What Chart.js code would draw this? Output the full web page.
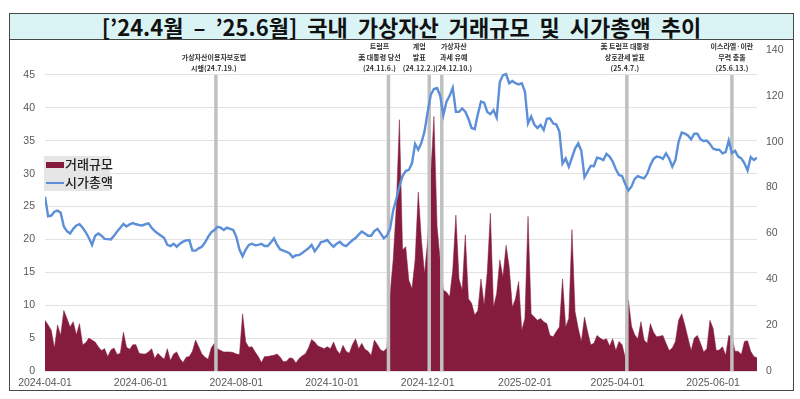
<!DOCTYPE html>
<html>
<head>
<meta charset="utf-8">
<script src="https://cdn.jsdelivr.net/npm/chart.js@4"></script>
<style>
  body { margin: 0; background: #fff; }
  #wrap { position: relative; width: 800px; height: 399px; overflow: hidden; }
  #frame { position: absolute; left: 9px; top: 13px; width: 785px; height: 378px; box-sizing: border-box; border: 1.5px solid #474747; }
  #title { position: absolute; left: 9px; top: 13px; width: 785px; height: 27px; box-sizing: border-box; border: 1.5px solid #474747;
           background: #daf4f6; text-align: center; font: bold 22px "Noto Sans CJK KR", sans-serif; line-height: 24px; color: #111;
           word-spacing: 5px; }
  #chart { position: absolute; left: 0; top: 0; }
  #legend { position: absolute; left: 44px; top: 156px; width: 66px; height: 35px; background: #e6e6e6;
            font: 500 13px "Noto Sans CJK KR", sans-serif; color: #222; }
  #legend div { position: absolute; left: 2px; height: 16px; line-height: 16px; white-space: nowrap; }
  #legend i { display: inline-block; width: 18px; vertical-align: middle; margin-right: 1px; }
</style>
</head>
<body>
<div id="wrap">
  <div id="frame"></div>
  <div id="title">[’24.4월 – ’25.6월] 국내 가상자산 거래규모 및 시가총액 추이</div>
  <canvas id="chart" width="800" height="399"></canvas>
  <div id="legend">
    <div style="top:0px"><i style="height:6px;background:#851c3d"></i>거래규모</div>
    <div style="top:18px"><i style="height:2px;background:#5b8fd8"></i>시가총액</div>
  </div>
</div>
<script>
const startDate = "2024-04-01";
const stepDays = 2;

const xTicks = ["2024-04-01","2024-06-01","2024-08-01","2024-10-01","2024-12-01","2025-02-01","2025-04-01","2025-06-01"];

// 거래규모 (left axis), every 2 days from 2024-04-01
const volume = [
  7.7, 7.0, 6.2, 3.5, 7.0, 5.4, 9.2, 8.0, 6.7, 7.5,
  5.5, 7.2, 4.0, 4.3, 5.0, 4.7, 4.4, 3.7, 3.1, 3.4,
  2.2, 3.2, 3.5, 2.5, 2.7, 5.9, 3.6, 3.3, 4.0, 4.0,
  2.7, 2.6, 2.6, 2.9, 3.4, 1.9, 2.7, 2.2, 1.8, 3.4,
  1.6, 2.6, 2.9, 1.9, 1.3, 2.1, 2.2, 3.0, 4.7, 3.7,
  2.6, 2.1, 1.8, 3.5, 4.2, 3.4, 3.1, 2.9, 2.9, 2.9,
  2.8, 2.6, 2.5, 8.7, 4.4, 3.6, 3.7, 2.9, 2.2, 1.3,
  2.2, 2.2, 2.3, 2.4, 2.6, 2.1, 1.4, 1.5, 2.0, 1.9,
  1.2, 1.9, 2.3, 2.6, 3.5, 4.8, 4.4, 3.8, 3.6, 3.4,
  3.7, 3.4, 4.4, 3.2, 2.6, 3.9, 3.0, 2.7, 4.0, 4.9,
  3.4, 4.2, 3.3, 3.0, 2.4, 4.7, 4.0, 3.2, 3.0, 3.5,
  11.5, 16.9, 25.0, 38.2, 18.4, 18.9, 13.8, 12.5, 16.9, 27.2,
  20.0, 14.8, 19.9, 30.0, 38.7, 22.0, 16.8, 12.3, 12.0, 11.3,
  15.3, 23.7, 14.0, 12.3, 20.7, 11.0, 10.3, 8.5, 9.2, 14.0,
  10.0, 15.0, 24.0, 9.7, 11.8, 16.9, 14.3, 19.1, 15.8, 9.7,
  11.0, 13.6, 6.2, 8.0, 23.5, 8.7, 8.2, 7.7, 8.0, 7.5,
  7.2, 5.4, 5.2, 6.0, 6.7, 14.0, 6.7, 8.0, 21.5, 9.0,
  6.5, 4.5, 8.2, 6.0, 4.0, 4.2, 5.4, 5.0, 4.7, 4.9,
  3.8, 4.9, 3.1, 4.5, 4.0, 2.0, 10.8, 6.8, 5.5, 4.9,
  7.5, 4.7, 4.2, 7.2, 5.9, 5.2, 5.3, 5.4, 4.2, 3.1,
  3.5, 4.5, 7.7, 8.7, 7.0, 5.0, 3.1, 5.0, 5.4, 4.2,
  2.9, 3.4, 7.7, 6.5, 3.1, 3.2, 3.7, 2.4, 5.4, 5.2,
  3.0, 3.0, 2.5, 4.5, 4.6, 3.0, 2.2, 2.0
];

// 시가총액 (right axis), same dates
const marketCap = [
  76, 67.5, 67.8, 69.5, 70, 69, 63, 61, 60, 62,
  63.5, 64, 62.5, 60.5, 58, 55, 59, 60, 59, 57.6,
  57.5, 57.4, 59, 60.8, 62.5, 64.1, 63, 64, 64.5, 64,
  63.7, 63.5, 64, 64.4, 62.5, 61, 60, 59, 58, 55,
  54.5, 55.5, 54.2, 55.5, 56.4, 57, 57.1, 52.5, 52.5, 53.5,
  54.2, 56, 58.5, 60.5, 61.5, 62.9, 62.5, 61.5, 62.5, 62,
  61.5, 58.5, 53, 50, 53, 55, 55.5, 54.8, 55, 55.5,
  54.5, 54.5, 56, 57.9, 55, 53, 52.5, 52, 51.3, 49.6,
  50.5, 50.6, 51.5, 52.5, 53.5, 55, 52.2, 54, 56.2, 56.5,
  57.1, 55.5, 54.2, 55.5, 56.4, 55, 54.5, 55.8, 57, 58,
  59.5, 60.8, 60, 59, 59, 61, 62, 60, 57.9, 59,
  62, 70, 75, 80.5, 85, 87.2, 87.7, 90.6, 99, 96.5,
  99.5, 104.5, 113, 120.5, 123, 123.4, 120, 111.6, 117.5, 120,
  123.5, 113, 113, 114.5, 113.1, 110, 106, 105.5, 112, 117.5,
  117, 113, 112, 113.8, 110.5, 126, 129, 129.5, 125.5, 126.5,
  125.5, 125, 125.5, 122, 108, 111, 107.5, 106, 107.3, 105.1,
  110, 110.2, 108, 107.5, 104.5, 90.5, 92.7, 89.1, 93, 97,
  99.3, 96, 84.5, 87, 89.5, 89.3, 93, 92.7, 92, 94.7,
  93.5, 91.3, 88, 85.5, 85, 81.5, 78.7, 80.5, 83.8, 85,
  84.5, 84, 86, 89.8, 92.5, 93.5, 93.3, 92.5, 94.9, 92.7,
  89.1, 92, 100, 104, 103.5, 102.7, 101, 103.5, 103.5, 101,
  100.3, 100.5, 99, 97, 96.5, 96.5, 94.9, 95.5, 100.5, 95,
  96, 93.5, 92.7, 90.6, 87.5, 93.3, 92, 93
];

const eventDates = ["2024-07-19","2024-11-06","2024-12-02","2024-12-10","2025-04-07","2025-06-13"];
const eventTexts = [
  ["가상자산이용자보호법", "시행(24.7.19.)"],
  ["트럼프", "美 대통령 당선", "(24.11.6.)"],
  ["계엄", "발표", "(24.12.2.)"],
  ["가상자산", "과세 유예", "(24.12.10.)"],
  ["美 트럼프 대통령", "상호관세 발표", "(25.4.7.)"],
  ["이스라엘·이란", "무력 충돌", "(25.6.13.)"]
];
const eventLabelShift = [-2, -9, -10, 12, -2, 0];

function dayIndex(s){
  return Math.round((Date.parse(s) - Date.parse(startDate)) / 86400000);
}

const tickFont = { family: "'Liberation Sans', sans-serif", size: 10.5 };

const eventPlugin = {
  id: "events",
  afterDatasetDraw(chart, args){
    if(args.index !== 1) return;
    const ctx = chart.ctx;
    const xs = chart.scales.x, yl = chart.scales.y;
    const top = yl.getPixelForValue(45);
    const bottom = chart.chartArea.bottom;
    ctx.save();
    ctx.strokeStyle = "#c0c0c0";
    ctx.lineWidth = 3.5;
    eventDates.forEach(d=>{
      const x = xs.getPixelForValue(dayIndex(d));
      ctx.beginPath();
      ctx.moveTo(x, top);
      ctx.lineTo(x, bottom);
      ctx.stroke();
    });
    ctx.fillStyle = "#333";
    ctx.font = "bold 7px 'Noto Sans CJK KR', sans-serif";
    ctx.textAlign = "center";
    ctx.textBaseline = "middle";
    eventTexts.forEach((lines, i)=>{
      const x = xs.getPixelForValue(dayIndex(eventDates[i])) + eventLabelShift[i];
      lines.forEach((t, j)=>{
        const y = top - 7 - (lines.length - 1 - j) * 11;
        ctx.fillText(t, x, y);
      });
    });
    ctx.restore();
  }
};

new Chart(document.getElementById("chart"), {
  type: "line",
  data: {
    datasets: [
      {
        label: "시가총액",
        data: marketCap.map((v,i)=>({ x: i*stepDays, y: v })),
        yAxisID: "y1",
        borderColor: "#5b8fd8",
        borderWidth: 2.4,
        pointRadius: 0,
        tension: 0,
        fill: false
      },
      {
        label: "거래규모",
        data: volume.map((v,i)=>({ x: i*stepDays, y: v })),
        yAxisID: "y",
        borderColor: "#851c3d",
        borderWidth: 0.5,
        backgroundColor: "#851c3d",
        pointRadius: 0,
        tension: 0,
        fill: "origin"
      }
    ]
  },
  options: {
    responsive: false,
    animation: false,
    devicePixelRatio: 1,
    layout: { padding: { top: 50, left: 0, right: 0, bottom: 0 } },
    plugins: { legend: { display: false }, tooltip: { enabled: false } },
    scales: {
      x: {
        type: "linear",
        min: 0,
        max: (volume.length - 1) * stepDays,
        grid: { display: false, drawTicks: false },
        border: { display: false },
        afterBuildTicks: s => { s.ticks = xTicks.map(t=>({ value: dayIndex(t) })); },
        afterFit: s => { s.height = 28; },
        ticks: {
          color: "#595959",
          font: tickFont,
          padding: 6,
          maxRotation: 0,
          autoSkip: false,
          callback: v => xTicks.find(t=>dayIndex(t) === v) || ""
        }
      },
      y: {
        position: "left",
        min: 0,
        max: 48.8,
        afterBuildTicks: s => { s.ticks = [0,5,10,15,20,25,30,35,40,45].map(v=>({ value: v })); },
        afterFit: s => { s.width = 45; },
        grid: { color: "#e2e2e2", lineWidth: 1, drawTicks: false },
        border: { display: false },
        ticks: { color: "#595959", font: tickFont, padding: 10 }
      },
      y1: {
        position: "right",
        min: 0,
        max: 140,
        afterFit: s => { s.width = 43; },
        grid: { display: false, drawTicks: false },
        border: { display: false },
        ticks: { stepSize: 20, color: "#595959", font: tickFont, padding: 9 }
      }
    }
  },
  plugins: [eventPlugin]
});
</script>
</body>
</html>
